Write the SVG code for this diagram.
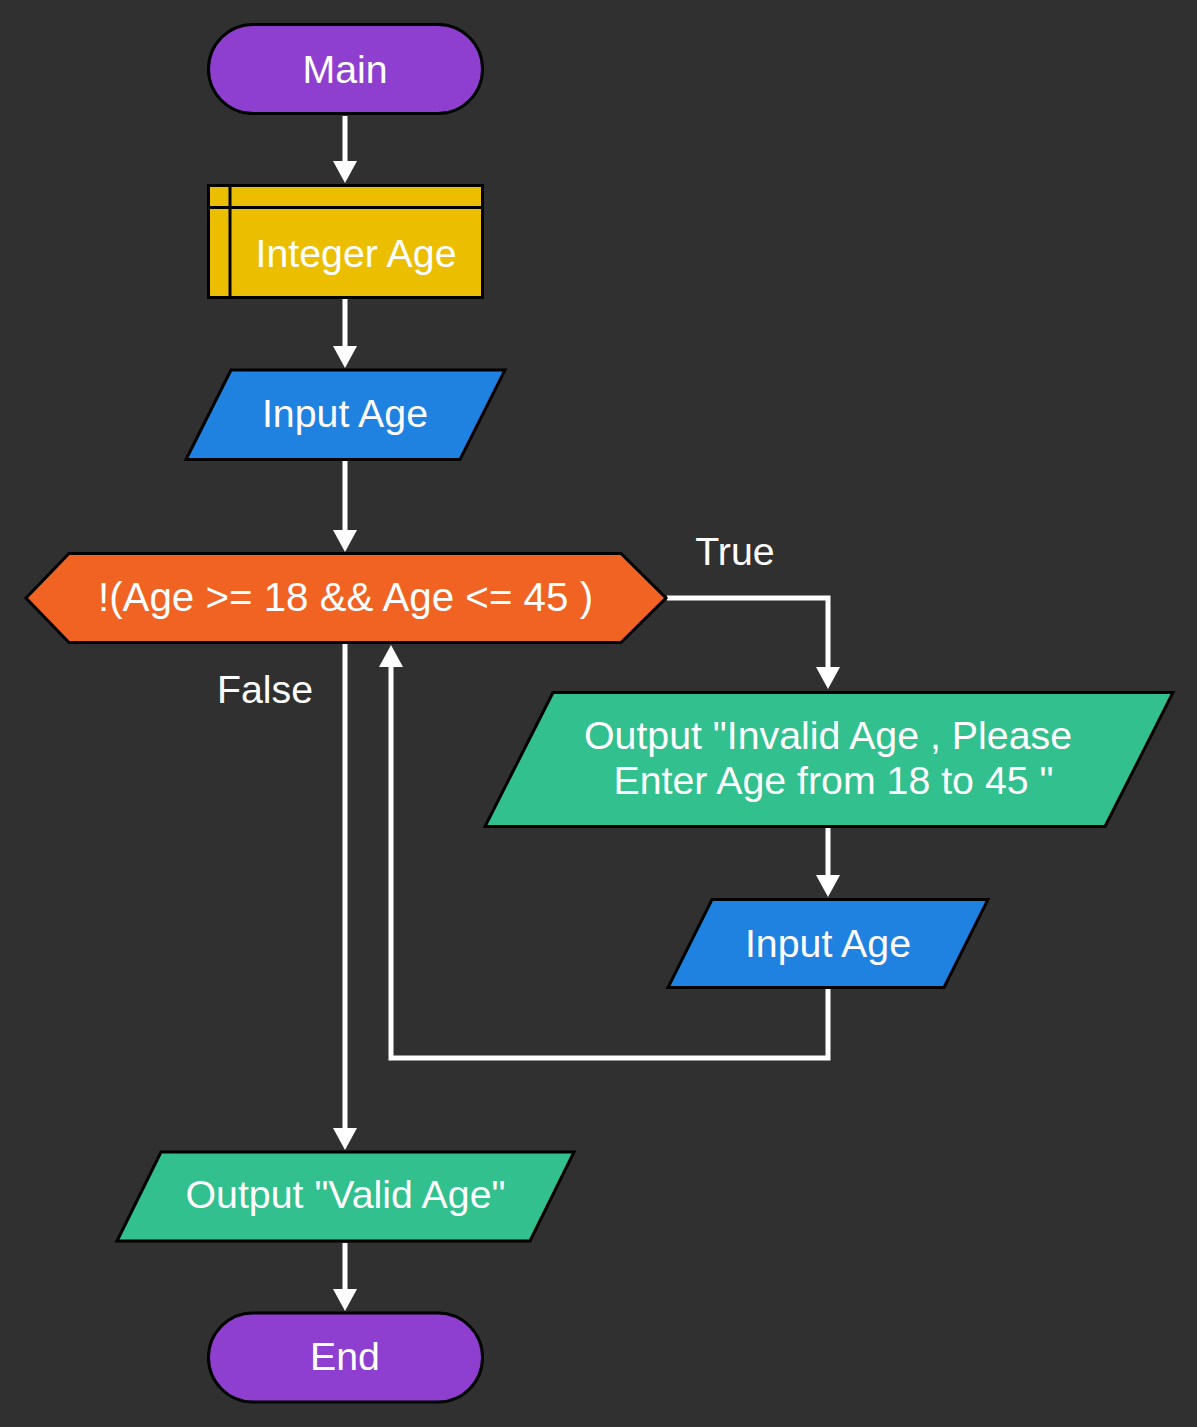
<svg xmlns="http://www.w3.org/2000/svg" width="1197" height="1427" viewBox="0 0 1197 1427">
  <defs>
    <marker id="arrow" markerUnits="userSpaceOnUse" markerWidth="22" markerHeight="24" refX="0" refY="12" orient="auto" overflow="visible">
      <path d="M0,0 L22,12 L0,24 Z" fill="#ffffff"/>
    </marker>
    <style>
      .node { stroke: #000000; stroke-width: 3; stroke-linejoin: miter; }
      .term { fill: #8E3FD0; }
      .decl { fill: #EBBF00; }
      .inp { fill: #1F81E0; }
      .cond { fill: #F16322; }
      .outp { fill: #31C08E; }
      .lbl { font-family: "Liberation Sans", Arial, sans-serif; font-size: 39.3px; fill: #ffffff; text-anchor: middle; }
      .conn { fill: none; stroke: #ffffff; stroke-width: 5; marker-end: url(#arrow); }
    </style>
  </defs>
  <rect x="0" y="0" width="1197" height="1427" fill="#303030"/>

  <g id="connectors">
    <path class="conn" d="M345,116 V161"/>
    <path class="conn" d="M345,299 V346"/>
    <path class="conn" d="M345,461 V530"/>
    <path class="conn" d="M667,598 H828 V667"/>
    <path class="conn" d="M828,828 V875"/>
    <path class="conn" d="M345,644 V1128"/>
    <path class="conn" d="M828,989 V1058 H391 V667"/>
    <path class="conn" d="M345,1243 V1289"/>
    <text class="lbl" x="735" y="565">True</text>
    <text class="lbl" x="265" y="703">False</text>
  </g>

  <g id="main">
    <rect class="node term" x="208.5" y="24.5" width="274" height="89" rx="44.5" ry="44.5"/>
    <text class="lbl" x="345" y="83">Main</text>
  </g>

  <g id="declare">
    <rect class="node decl" x="208.5" y="185.5" width="274" height="112"/>
    <line x1="230" y1="185.5" x2="230" y2="297.5" stroke="#000" stroke-width="3"/>
    <line x1="208.5" y1="207.5" x2="482.5" y2="207.5" stroke="#000" stroke-width="3"/>
    <text class="lbl" x="356" y="267">Integer Age</text>
  </g>

  <g id="input1">
    <polygon class="node inp" points="231,370 505,370 460,459.5 186,459.5"/>
    <text class="lbl" x="345" y="427">Input Age</text>
  </g>

  <g id="decision">
    <polygon class="node cond" points="26,598 69,553.5 621,553.5 666,598 621,642.5 69,642.5"/>
    <text class="lbl" x="345.5" y="611" style="font-size:40.3px">!(Age &gt;= 18 &amp;&amp; Age &lt;= 45 )</text>
  </g>

  <g id="outputInvalid">
    <polygon class="node outp" points="553,692.5 1173,692.5 1105,826.5 485,826.5"/>
    <text class="lbl" x="828" y="749">Output "Invalid Age , Please</text>
    <text class="lbl" x="833.5" y="794">Enter Age from 18 to 45 "</text>
  </g>

  <g id="input2">
    <polygon class="node inp" points="712,899.5 988,899.5 944,987.5 668,987.5"/>
    <text class="lbl" x="828" y="957">Input Age</text>
  </g>

  <g id="outputValid">
    <polygon class="node outp" points="161,1152 574,1152 530,1241 117,1241"/>
    <text class="lbl" x="345.5" y="1208">Output "Valid Age"</text>
  </g>

  <g id="end">
    <rect class="node term" x="208.5" y="1313" width="274" height="89" rx="44.5" ry="44.5"/>
    <text class="lbl" x="345" y="1370">End</text>
  </g>
</svg>
